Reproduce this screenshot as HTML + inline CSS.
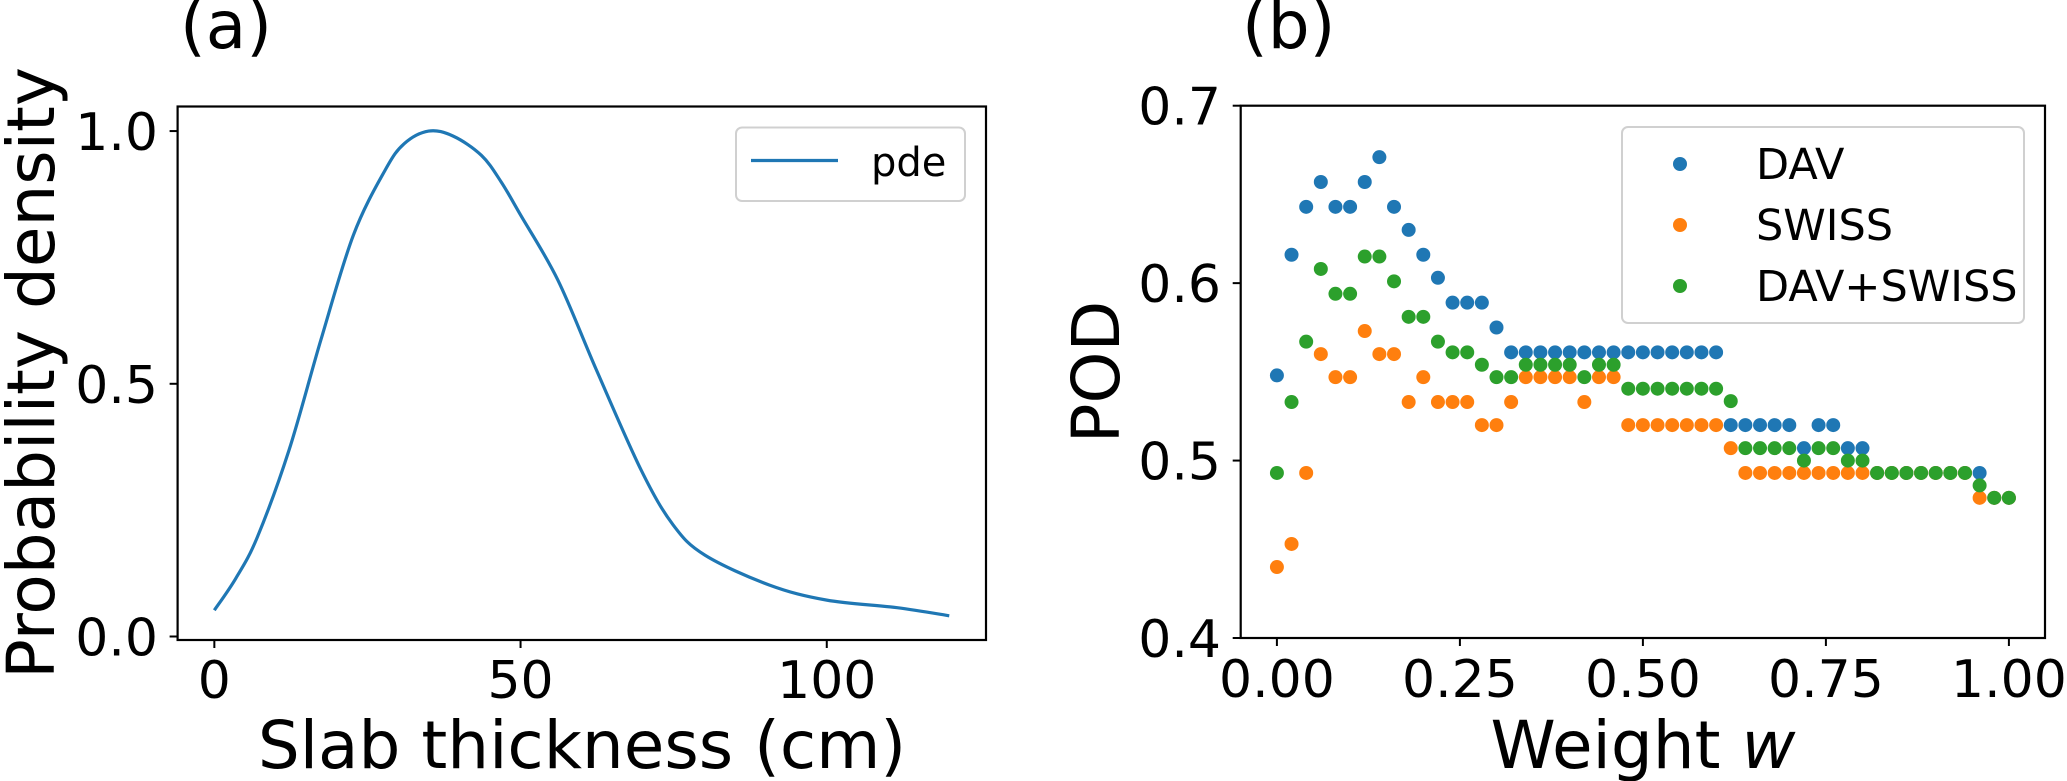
<!DOCTYPE html>
<html><head><meta charset="utf-8">
<style>
html,body{margin:0;padding:0;background:#fff;}
svg{display:block;font-family:"DejaVu Sans","Liberation Sans",sans-serif;}
</style></head>
<body>
<svg id="fig" width="2067" height="781" viewBox="0 0 2067 781" xmlns="http://www.w3.org/2000/svg">
<rect width="2067" height="781" fill="#fff"/>
<g id="pa"></g>
<g id="pb"></g>
</svg>
<script>
// Panel (a) data
const pdeX = [0, 3.5, 7, 12.2, 17.4, 22.7, 27.9, 31, 35, 39, 43.6, 46.8, 50, 56.1, 62.4, 69.7, 74.9, 80.1, 90.6, 100, 111.5, 120];
const pdeY = [0.052, 0.115, 0.196, 0.369, 0.587, 0.794, 0.923, 0.975, 1.0, 0.99, 0.952, 0.9, 0.834, 0.705, 0.527, 0.329, 0.221, 0.161, 0.102, 0.072, 0.057, 0.041];
const aXTicks = [0, 50, 100];
const aYTicks = [0.0, 0.5, 1.0];
const aYTickLabels = ["0.0", "0.5", "1.0"];

// Panel (b) data
const weights = [];
for (let i = 0; i <= 50; i++) weights.push(i / 50);
const davPOD = [0.548,0.616,0.643,0.657,0.643,0.643,0.657,0.671,0.643,0.630,0.616,0.603,0.589,0.589,0.589,0.575,
 0.561,0.561,0.561,0.561,0.561,0.561,0.561,0.561,0.561,0.561,0.561,0.561,0.561,0.561,0.561,
 0.520,0.520,0.520,0.520,0.520,0.507,0.520,0.520,0.507,0.507,
 0.493,0.493,0.493,0.493,0.493,0.493,0.493,0.493,0.479,0.479];
const swissPOD = [0.440,0.453,0.493,0.560,0.547,0.547,0.573,0.560,0.560,0.533,0.547,0.533,0.533,0.533,0.520,0.520,
 0.533,0.547,0.547,0.547,0.547,0.533,0.547,0.547,0.520,0.520,0.520,0.520,0.520,0.520,0.520,
 0.507,0.493,0.493,0.493,0.493,0.493,0.493,0.493,0.493,0.493,
 0.493,0.493,0.493,0.493,0.493,0.493,0.493,0.479,0.479,0.479];
const bothPOD = [0.493,0.533,0.567,0.608,0.594,0.594,0.615,0.615,0.601,0.581,0.581,0.567,0.561,0.561,0.554,0.547,
 0.547,0.554,0.554,0.554,0.554,0.547,0.554,0.554,0.5405,0.5405,0.5405,0.5405,0.5405,0.5405,0.5405,
 0.5335,0.507,0.507,0.507,0.507,0.500,0.507,0.507,0.500,0.500,
 0.493,0.493,0.493,0.493,0.493,0.493,0.493,0.486,0.479,0.479];
const bXTicks = [0, 0.25, 0.5, 0.75, 1.0];
const bXTickLabels = ["0.00", "0.25", "0.50", "0.75", "1.00"];
const bYTicks = [0.4, 0.5, 0.6, 0.7];
const bYTickLabels = ["0.4", "0.5", "0.6", "0.7"];
const seriesNames = ["DAV", "SWISS", "DAV+SWISS"];
const seriesColors = ["#1f77b4", "#ff7f0e", "#2ca02c"];

const NS = "http://www.w3.org/2000/svg";
function mk(tag, attrs, parent) {
  const e = document.createElementNS(NS, tag);
  for (const k in attrs) e.setAttribute(k, attrs[k]);
  parent.appendChild(e);
  return e;
}

// ---------- Panel A ----------
const pa = document.getElementById('pa');
const A = {l:177.6, r:986, t:106.5, b:640, x0:-6, x1:126, y0:-0.0069, y1:1.0486};
const ax = v => A.l + (v - A.x0) / (A.x1 - A.x0) * (A.r - A.l);
const ay = v => A.b - (v - A.y0) / (A.y1 - A.y0) * (A.b - A.t);

let t = mk('text', {x:180, y:48, 'font-size':66, fill:'#000'}, pa);
t.textContent = '(a)';



const pts = pdeX.map((x, i) => [ax(x), ay(pdeY[i])]);
let d = `M${pts[0][0]},${pts[0][1]}`;
for (let i = 0; i < pts.length - 1; i++) {
  const p0 = pts[Math.max(0, i - 1)], p1 = pts[i], p2 = pts[i + 1], p3 = pts[Math.min(pts.length - 1, i + 2)];
  const c1 = [p1[0] + (p2[0] - p0[0]) / 6, p1[1] + (p2[1] - p0[1]) / 6];
  const c2 = [p2[0] - (p3[0] - p1[0]) / 6, p2[1] - (p3[1] - p1[1]) / 6];
  d += ` C${c1[0]},${c1[1]} ${c2[0]},${c2[1]} ${p2[0]},${p2[1]}`;
}
let cur = mk('path', {d:d, fill:'none', stroke:'#1f77b4', 'stroke-width':3.2}, pa);



let fr = mk('rect', {x:A.l, y:A.t, width:A.r - A.l, height:A.b - A.t, fill:'none', stroke:'#000', 'stroke-width':2.2}, pa);



aXTicks.forEach(v => {
  const x = ax(v);
  mk('line', {x1:x, x2:x, y1:A.b, y2:A.b + 8, stroke:'#000', 'stroke-width':2}, pa);
  const tl = mk('text', {x:x, y:698, 'font-size':52, 'text-anchor':'middle'}, pa);
  tl.textContent = String(v);
  
  
});
aYTicks.forEach((v, i) => {
  const y = ay(v);
  mk('line', {x1:A.l - 8, x2:A.l, y1:y, y2:y, stroke:'#000', 'stroke-width':2}, pa);
  const tl = mk('text', {x:158, y:y + 19, 'font-size':52, 'text-anchor':'end'}, pa);
  tl.textContent = aYTickLabels[i];
  
  
});
t = mk('text', {x:582, y:768, 'font-size':66, 'text-anchor':'middle'}, pa);
t.textContent = 'Slab thickness (cm)';


t = mk('text', {x:0, y:0, 'font-size':66, 'text-anchor':'middle', transform:'translate(54,373) rotate(-90)'}, pa);
t.textContent = 'Probability density';



let lg = mk('g', {}, pa);


mk('rect', {x:736, y:127.5, width:229, height:73.5, rx:6, fill:'#fff', 'fill-opacity':0.8, stroke:'#d0d0d0', 'stroke-width':2}, lg);
mk('line', {x1:751, x2:838, y1:160.5, y2:160.5, stroke:'#1f77b4', 'stroke-width':3.2}, lg);
t = mk('text', {x:871, y:176, 'font-size':40}, lg);
t.textContent = 'pde';



// ---------- Panel B ----------
const pb = document.getElementById('pb');
const B = {l:1240.7, r:2045, t:105.7, b:638, x0:-0.05, x1:1.05, y0:0.4, y1:0.7};
const bx = v => 1276.9 + v * 732;
const by = v => B.b - (v - B.y0) / (B.y1 - B.y0) * (B.b - B.t);

t = mk('text', {x:1242, y:48, 'font-size':66}, pb);
t.textContent = '(b)';



[davPOD, swissPOD, bothPOD].forEach((ser, si) => {
  const g = mk('g', {fill:seriesColors[si]}, pb);
  
  
  ser.forEach((v, i) => {
    const c = mk('circle', {cx:bx(weights[i]), cy:by(v), r:7}, g);
    
    
  });
});

fr = mk('rect', {x:B.l, y:B.t, width:B.r - B.l, height:B.b - B.t, fill:'none', stroke:'#000', 'stroke-width':2.2}, pb);



bXTicks.forEach((v, i) => {
  const x = bx(v);
  mk('line', {x1:x, x2:x, y1:B.b, y2:B.b + 8, stroke:'#000', 'stroke-width':2}, pb);
  const tl = mk('text', {x:x, y:697, 'font-size':52, 'text-anchor':'middle'}, pb);
  tl.textContent = bXTickLabels[i];
  
  
});
bYTicks.forEach((v, i) => {
  const y = by(v);
  mk('line', {x1:B.l - 8, x2:B.l, y1:y, y2:y, stroke:'#000', 'stroke-width':2}, pb);
  const tl = mk('text', {x:1221, y:y + 19, 'font-size':52, 'text-anchor':'end'}, pb);
  tl.textContent = bYTickLabels[i];
  
  
});
t = mk('text', {x:1643, y:768, 'font-size':66, 'text-anchor':'middle'}, pb);
t.textContent = 'Weight ';


const ts = mk('tspan', {'font-style':'italic'}, t);
ts.textContent = 'w';
t = mk('text', {x:0, y:0, 'font-size':66, 'text-anchor':'middle', transform:'translate(1119,372) rotate(-90)'}, pb);
t.textContent = 'POD';



lg = mk('g', {}, pb);


mk('rect', {x:1622, y:127, width:402, height:196, rx:6, fill:'#fff', 'fill-opacity':0.8, stroke:'#d0d0d0', 'stroke-width':2}, lg);
[164, 225, 286].forEach((y, i) => {
  mk('circle', {cx:1680, cy:y, r:7, fill:seriesColors[i]}, lg);
  const tl = mk('text', {x:1756, y:y + 15, 'font-size':43}, lg);
  tl.textContent = seriesNames[i];
  
  
});
</script>
</body></html>
